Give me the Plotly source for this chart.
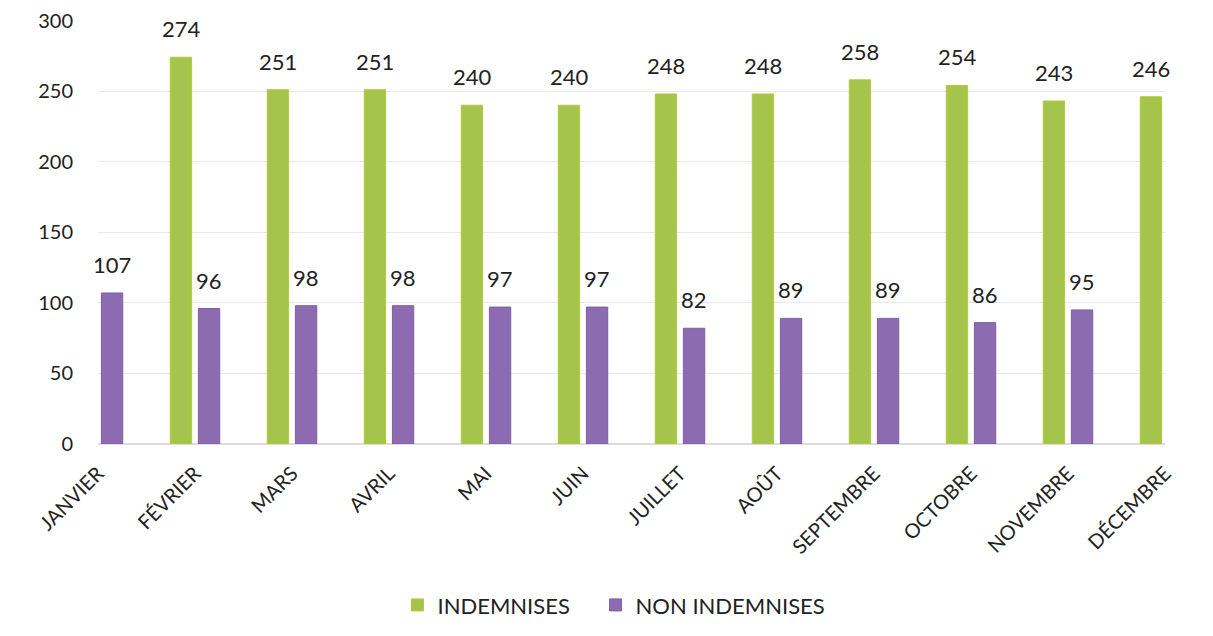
import plotly.graph_objects as go

months = ["JANVIER", "FÉVRIER", "MARS", "AVRIL", "MAI", "JUIN", "JUILLET",
          "AOÛT", "SEPTEMBRE", "OCTOBRE", "NOVEMBRE", "DÉCEMBRE"]
indemnises = [None, 274, 251, 251, 240, 240, 248, 248, 258, 254, 243, 246]
non_indemnises = [107, 96, 98, 98, 97, 97, 82, 89, 89, 86, 95, None]

FONT = "Lato"
GREEN = "#A4C44C"
PURPLE = "#8C6BB1"
BAR_W = 0.22

fig = go.Figure()
fig.add_trace(go.Bar(
    name="INDEMNISES", x=months, y=indemnises, legend="legend",
    marker=dict(color=GREEN, line=dict(color="#B4C83A", width=1)),
    width=BAR_W, offset=-0.255,
))
fig.add_trace(go.Bar(
    name="NON INDEMNISES", x=months, y=non_indemnises, legend="legend2",
    marker=dict(color=PURPLE, line=dict(color="#7E5FA3", width=1)),
    width=BAR_W, offset=0.035,
))

# data labels above each bar
for vals, xs in ((indemnises, -14), (non_indemnises, 14)):
    for m, v in zip(months, vals):
        if v is None:
            continue
        fig.add_annotation(x=m, y=v, text=str(v), showarrow=False,
                           xanchor="center", yanchor="bottom", xshift=xs, yshift=13,
                           font=dict(size=22, family=FONT, color="#222222"))

legend_common = dict(orientation="h", xanchor="left", y=-0.380, yanchor="middle",
                     font=dict(size=22, family=FONT, color="#222222"), itemwidth=30,
                     bgcolor="rgba(0,0,0,0)")

fig.update_layout(
    width=1213, height=636,
    margin=dict(l=90, r=56, t=12, b=200),
    paper_bgcolor="white", plot_bgcolor="white",
    font=dict(family=FONT, color="#222222"),
    barmode="group",
    showlegend=True,
    legend=dict(x=0.2807, **legend_common),
    legend2=dict(x=0.4663, **legend_common),
    xaxis=dict(type="category", range=[0, 11], tickangle=-45, automargin=False,
               tickfont=dict(size=20, family=FONT, color="#222222"),
               showgrid=False, showline=False, ticks="", ticklabelstandoff=13),
    yaxis=dict(range=[0, 300.4], tickvals=[0, 50, 100, 150, 200, 250, 300], automargin=False,
               tickfont=dict(size=20, family=FONT, color="#222222"),
               showgrid=True, gridcolor="#E8E8E8", gridwidth=1,
               zeroline=True, zerolinecolor="#DDDDDD", ticks="", ticklen=0,
               ticklabelstandoff=24, ticklabeloverflow="allow"),
)

fig.write_html("out.html")
